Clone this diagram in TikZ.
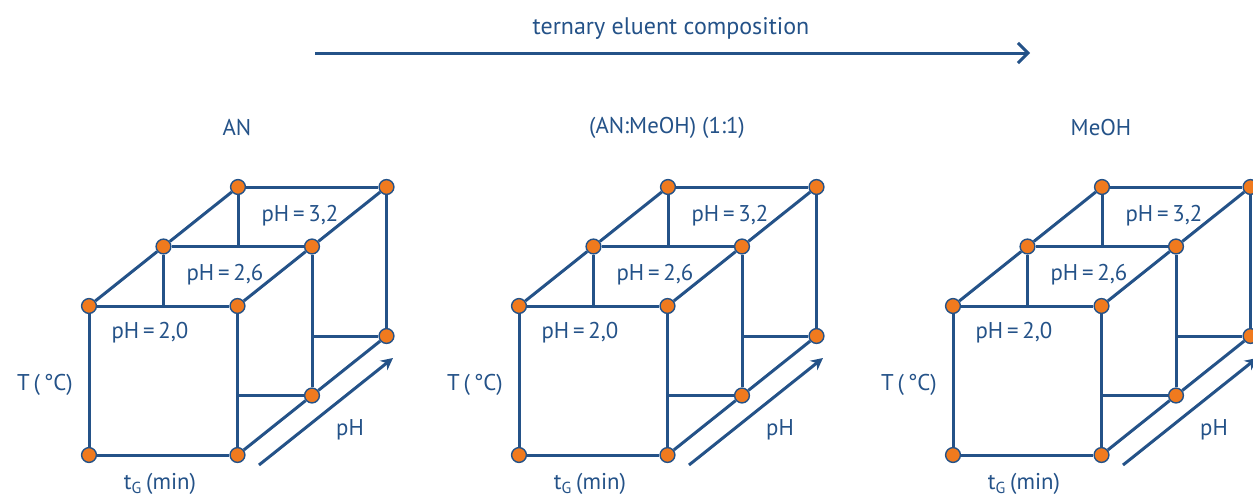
\documentclass[tikz,border=0pt]{standalone}
\usepackage{fontspec}
\setmainfont{PT Sans}
\usetikzlibrary{arrows.meta}
\definecolor{cubeblue}{RGB}{36,82,136}
\definecolor{dotorange}{RGB}{240,122,30}

\begin{document}
\begin{tikzpicture}[x=0.5pt, y=-0.5pt,
  edge/.style={draw=cubeblue, line width=1.5pt},
  vertex/.style={circle, fill=dotorange, draw=cubeblue, line width=0.7pt,
    minimum size=7.4pt, inner sep=0pt},
  lbl/.style={text=cubeblue, font=\fontsize{11.4}{13}\selectfont, inner sep=0pt},
  ar/.style={-{Stealth[length=6pt,width=6pt]}, draw=cubeblue, line width=1.5pt},
  topar/.style={-{Straight Barb[length=5pt,width=10pt]}, draw=cubeblue, line width=1.5pt},
]
\useasboundingbox (0,0) rectangle (1253,499);

%── Zusammensetzung des Eluenten ─────────────────────────────────────────────

\coordinate (comp-start) at (315,53);
\coordinate (comp-end)   at (1030,53);
\draw[topar] (comp-start) -- (comp-end);
\node[lbl, font=\fontsize{12}{14}\selectfont] (comp) at (671,28)
  {ternary eluent composition};

%── Würfel je Eluent ─────────────────────────────────────────────────────────

\foreach \off/\name/\title in {0/an/AN, 430/mix/{(AN:MeOH) (1:1)}, 864/meoh/MeOH} {
  \begin{scope}[shift={(89+\off,306)}]
    % Eckpunkte
    \node[vertex] (\name-ftl) at (0,0)        {};
    \node[vertex] (\name-ftr) at (148.5,0)    {};
    \node[vertex] (\name-fbl) at (0,149)      {};
    \node[vertex] (\name-fbr) at (148.5,149)  {};
    \node[vertex] (\name-mtl) at (74.5,-59.5) {};
    \node[vertex] (\name-mtr) at (223,-59.5)  {};
    \node[vertex] (\name-mbr) at (223,89.5)   {};
    \node[vertex] (\name-btl) at (149,-119)   {};
    \node[vertex] (\name-btr) at (297.5,-119) {};
    \node[vertex] (\name-bbr) at (297.5,30)   {};

    % Vorderseite und Tiefenkanten
    \draw[edge] (\name-ftl) -- (\name-ftr) -- (\name-fbr) -- (\name-fbl) -- (\name-ftl);
    \draw[edge] (\name-ftl) -- (\name-mtl) -- (\name-btl);
    \draw[edge] (\name-ftr) -- (\name-mtr) -- (\name-btr);
    \draw[edge] (\name-fbr) -- (\name-mbr) -- (\name-bbr);

    % mittlere Ebene
    \draw[edge] (\name-mtl) -- (\name-mtr) -- (\name-mbr);
    \draw[edge] (\name-mtl) -- (\name-mtl |- \name-ftl);
    \draw[edge] (\name-mbr) -- (\name-mbr -| \name-fbr);

    % hintere Ebene
    \draw[edge] (\name-btl) -- (\name-btr) -- (\name-bbr);
    \draw[edge] (\name-btl) -- (\name-btl |- \name-mtl);
    \draw[edge] (\name-bbr) -- (\name-bbr -| \name-mtr);

    % Beschriftung
    \node[lbl] (\name-title) at (148,-178) {\title};
    \node[lbl] (\name-ph1)   at (61,27)    {pH\,=\,2,0};
    \node[lbl] (\name-ph2)   at (136,-31)  {pH\,=\,2,6};
    \node[lbl] (\name-ph3)   at (211,-90)  {pH\,=\,3,2};
    \node[lbl] (\name-temp)  at (-44,79)   {T\,(\,°C)};
    \node[lbl] (\name-time)  at (71,178)   {t\textsubscript{G}\,(min)};
    \node[lbl] (\name-phax)  at (261,124)  {pH};

    \coordinate (\name-ph-start) at (170,159);
    \coordinate (\name-ph-end)   at (304,52);
    \draw[ar] (\name-ph-start) -- (\name-ph-end);
  \end{scope}
}

\end{tikzpicture}
\end{document}
